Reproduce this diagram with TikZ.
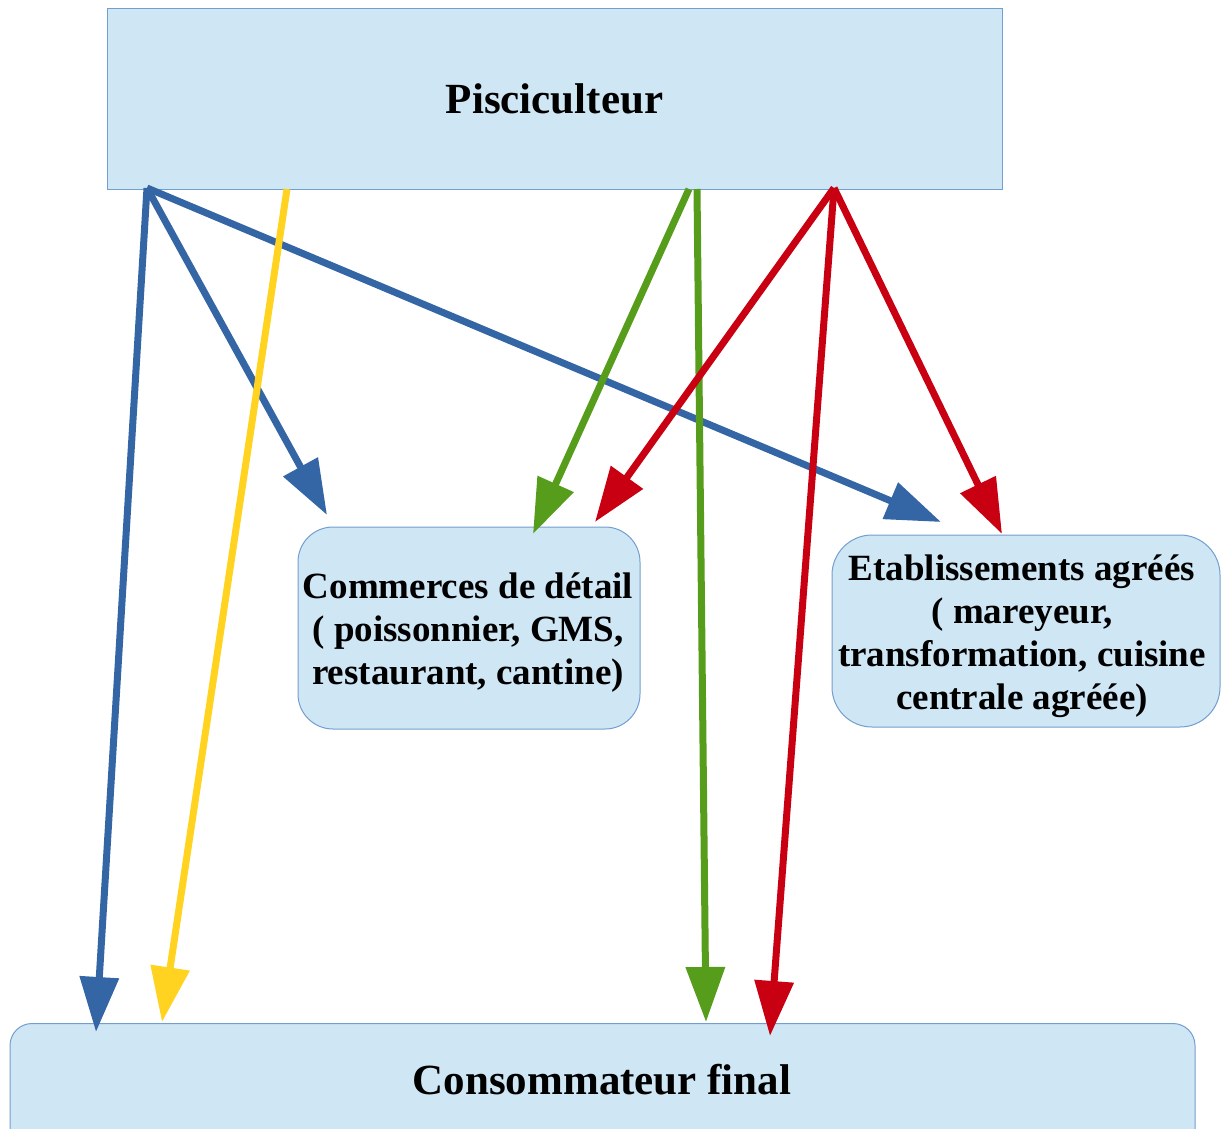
\documentclass[tikz,border=0pt]{standalone}
\usepackage{fontspec}
\setmainfont{Liberation Serif}
\usetikzlibrary{arrows.meta}
\definecolor{boxfill}{RGB}{207,230,244}
\definecolor{boxline}{RGB}{114,159,207}
\definecolor{fluxbleu}{RGB}{52,101,164}
\definecolor{fluxjaune}{RGB}{255,211,32}
\definecolor{fluxvert}{RGB}{87,157,28}
\definecolor{fluxrouge}{RGB}{201,0,18}
\tikzset{
  acteur/.style={draw=boxline, fill=boxfill, line width=1pt, inner sep=0pt},
  texte/.style={inner sep=0pt, align=center, font=\bfseries\fontsize{37}{43}\selectfont},
  grand/.style={font=\bfseries\fontsize{43}{50}\selectfont},
  flux/.style={line width=7pt, -{Triangle[length=55pt,width=38pt]}},
}
\begin{document}
\begin{tikzpicture}[x=1pt,y=-1pt]
    \useasboundingbox (0,0) rectangle (1226,1129);
    \clip (0,0) rectangle (1226,1129);
    % acteurs
    \node[acteur, grand, minimum width=895, minimum height=180] (pisc) at (554.5,99) {Pisciculteur};
    \node[acteur, rounded corners=35pt, minimum width=342, minimum height=202] (commerce) at (469,628) {};
    \node[texte] (commerce-texte) at (468,633)
        {Commerces de détail\\( poissonnier, GMS,\\restaurant, cantine)};
    \node[acteur, rounded corners=40pt, minimum width=388, minimum height=192] (etab) at (1026,631) {};
    \node[texte] (etab-texte) at (1022,636)
        {Etablissements agréés\\( mareyeur,\\transformation, cuisine\\centrale agréée)};
    \node[acteur, rounded corners=22pt, minimum width=1185, minimum height=200, anchor=north] (conso) at (602.5,1023) {};
    \node[grand] (conso-texte) at (602,1080) {Consommateur final};
    % points de depart et d'arrivee
    \coordinate (pisc-bleu) at (147,188);
    \coordinate (pisc-jaune) at (287,189);
    \coordinate (pisc-vert1) at (689,189);
    \coordinate (pisc-vert2) at (697,189);
    \coordinate (pisc-rouge) at (834,188);
    \coordinate (commerce-bleu) at (327,515);
    \coordinate (commerce-vert) at (533,534);
    \coordinate (commerce-rouge) at (595,522);
    \coordinate (etab-bleu) at (941,522);
    \coordinate (etab-rouge) at (1002,534);
    \coordinate (conso-bleu) at (96,1032);
    \coordinate (conso-jaune) at (162,1022);
    \coordinate (conso-vert) at (706,1022);
    \coordinate (conso-rouge) at (770,1036);
    % flux
    \draw[flux, fluxbleu] (pisc-bleu) -- (conso-bleu);
    \draw[flux, fluxbleu] (pisc-bleu) -- (commerce-bleu);
    \draw[flux, fluxbleu] (pisc-bleu) -- (etab-bleu);
    \draw[flux, fluxjaune] (pisc-jaune) -- (conso-jaune);
    \draw[flux, fluxvert] (pisc-vert1) -- (commerce-vert);
    \draw[flux, fluxvert] (pisc-vert2) -- (conso-vert);
    \draw[flux, fluxrouge] (pisc-rouge) -- (commerce-rouge);
    \draw[flux, fluxrouge] (pisc-rouge) -- (conso-rouge);
    \draw[flux, fluxrouge] (pisc-rouge) -- (etab-rouge);
\end{tikzpicture}
\end{document}
